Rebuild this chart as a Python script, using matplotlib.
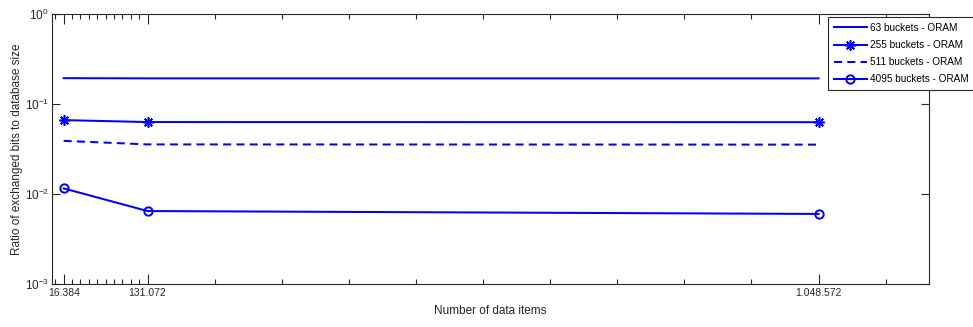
import numpy as np
import matplotlib
matplotlib.use("Agg")
import matplotlib.pyplot as plt

# x positions (number of data items) and labels as printed on the axis
n_items = [16384, 131072, 1048572]
tick_labels = ["16.384", "131.072", "1.048.572"]

# ratio of exchanged bits to database size
oram_63 = [0.194, 0.193, 0.193]
oram_255 = [0.0664, 0.0632, 0.0630]
oram_511 = [0.0391, 0.0357, 0.0355]
oram_4095 = [0.0116, 0.00650, 0.00604]

labels = ["63 buckets - ORAM", "255 buckets - ORAM",
          "511 buckets - ORAM", "4095 buckets - ORAM"]

plt.rcParams["font.family"] = ["Liberation Sans", "DejaVu Sans"]
plt.rcParams["mathtext.fontset"] = "custom"
plt.rcParams["mathtext.rm"] = "Liberation Sans"
plt.rcParams["mathtext.it"] = "Liberation Sans:italic"
plt.rcParams["axes.unicode_minus"] = False

W, H = 973, 327
fig = plt.figure(figsize=(W / 100, H / 100), dpi=100)
ax = fig.add_axes([51.7 / W, 1 - 284.3 / H, (929.3 - 51.7) / W, (284.3 - 14) / H])

blue = (0, 0, 1)
lw = 1.45
ax.plot(n_items, oram_63, color=blue, lw=lw, label=labels[0])
ax.plot(n_items, oram_255, color=blue, lw=lw, marker=(8, 2, 0),
        markersize=7.5, markeredgewidth=1.2, label=labels[1])
ax.plot(n_items, oram_511, color=blue, lw=lw, dashes=[4, 2.6], label=labels[2])
ax.plot(n_items, oram_4095, color=blue, lw=lw, marker="o", markersize=6,
        markerfacecolor="none", markeredgewidth=1.4, label=labels[3])

ax.set_yscale("log")
ax.set_ylim(1e-3, 1e0)
ax.set_xlim(0, 1.2e6)

# major ticks = labelled sizes; minor ticks on an uneven grid like the original
ax.set_xticks(n_items)
ax.set_xticklabels(tick_labels)
step_small = (131072 - 16384) / 10
step_big = step_small * 8
minor = [16384 - step_small] + [16384 + k * step_small for k in range(1, 10)]
minor += [131072 + k * step_big for k in range(1, 12) if k != 10]
ax.set_xticks(minor, minor=True)
ax.yaxis.set_minor_locator(matplotlib.ticker.NullLocator())

axc = "#262626"
for s in ax.spines.values():
    s.set_color(axc)
    s.set_linewidth(0.8)
ax.tick_params(which="both", direction="in", top=True, right=True,
               colors=axc, labelcolor=axc)
ax.tick_params(axis="x", which="major", length=7, width=0.8, labelsize=7.5, pad=2.5)
ax.tick_params(axis="x", which="minor", length=3.6, width=0.8)
ax.tick_params(axis="y", which="major", length=6, width=0.8, labelsize=8.5, pad=2)

ax.set_xlabel("Number of data items", fontsize=8.5, color=axc, labelpad=5)
ax.set_ylabel("Ratio of exchanged bits to database size", fontsize=8.5,
              color=axc, labelpad=1)

leg = fig.legend(loc="upper left", bbox_to_anchor=(828.3 / W, 1 - 17.3 / H),
                 bbox_transform=fig.transFigure, fontsize=7.2, frameon=True,
                 fancybox=False, borderaxespad=0, handlelength=3.3,
                 handletextpad=0.35, labelspacing=0.72, borderpad=0.55)
leg.get_frame().set_edgecolor(axc)
leg.get_frame().set_linewidth(0.8)
leg.get_frame().set_alpha(1)

fig.savefig("out.png", dpi=100)
